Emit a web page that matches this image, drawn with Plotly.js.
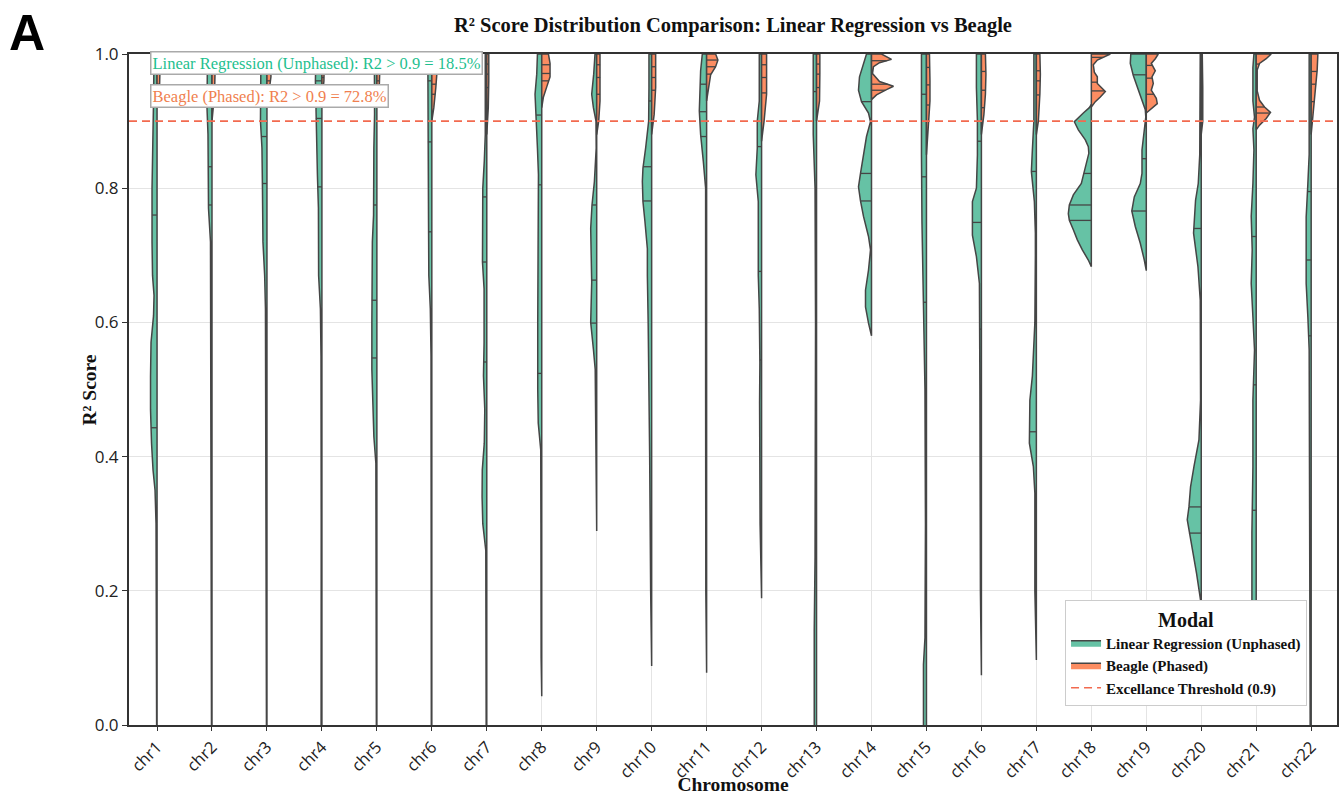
<!DOCTYPE html>
<html>
<head>
<meta charset="utf-8">
<script src="https://cdn.plot.ly/plotly-3.0.1.min.js"></script>
<style>html,body{margin:0;padding:0;background:#fff;}#chart{width:1339px;height:795px;}</style>
</head>
<body>
<div id="chart"></div>
<script>
// ---------------- DATA ----------------
const chromosomes = ['chr1','chr2','chr3','chr4','chr5','chr6','chr7','chr8','chr9','chr10','chr11',
  'chr12','chr13','chr14','chr15','chr16','chr17','chr18','chr19','chr20','chr21','chr22'];
const yTickValues = [0.0, 0.2, 0.4, 0.6, 0.8, 1.0];
const threshold = 0.9;
const lrShareAbove = 18.5;   // % of LR scores above threshold
const bgShareAbove = 72.8;   // % of Beagle scores above threshold

// Linear Regression (Unphased) density profiles: [R2 value, density]
const lr_chr1 = [[0,0.4],[0.2,0.6],[0.3,1],[0.35,2],[0.38,4],[0.42,5.5],[0.47,6.5],[0.52,6.5],[0.57,6],[0.61,3.5],[0.64,3],[0.67,4.5],[0.72,5],[0.8,5],[0.87,4],[0.93,3.5],[1.0,3]];
const lr_chr2 = [[0,0.5],[0.3,0.7],[0.5,0.8],[0.65,1],[0.72,1.5],[0.77,3.5],[0.83,3.5],[0.88,4],[0.92,5],[0.97,5],[1.0,4.5]];
const lr_chr3 = [[0,0.5],[0.3,0.7],[0.55,0.9],[0.62,1.5],[0.67,2.3],[0.72,4],[0.8,4.5],[0.86,5],[0.9,6.5],[0.96,6.5],[1.0,6]];
const lr_chr4 = [[0,0.8],[0.1,1],[0.3,0.7],[0.55,0.9],[0.62,1.5],[0.67,3.3],[0.77,3.5],[0.82,4.5],[0.86,5],[0.9,6],[0.96,6.5],[1.0,6]];
const lr_chr5 = [[0,0.5],[0.2,0.6],[0.39,1],[0.43,3],[0.47,3.5],[0.53,5],[0.6,5],[0.66,5],[0.72,4.5],[0.76,3.3],[0.82,3.3],[0.86,3],[0.91,2.3],[0.97,2.3],[1.0,2.5]];
const lr_chr6 = [[0,0.5],[0.3,0.6],[0.55,0.8],[0.62,1.5],[0.67,3],[0.75,3.3],[0.82,3.5],[0.88,4],[0.94,4],[1.0,4]];
const lr_chr7 = [[0,0.6],[0.2,0.7],[0.26,1],[0.3,4],[0.34,4.7],[0.38,4.5],[0.42,2.5],[0.47,2],[0.52,3.3],[0.57,2.7],[0.65,2.7],[0.69,4.3],[0.75,4.3],[0.8,4],[0.84,2.5],[0.88,1.5],[1.0,1.5]];
const lr_chr8 = [[0.043,0],[0.1,0.6],[0.3,0.8],[0.41,1],[0.45,3.5],[0.5,4],[0.6,4],[0.7,4],[0.77,4],[0.82,3.3],[0.86,4.3],[0.91,5.7],[0.94,6.7],[0.97,5],[1.0,4.3]];
const lr_chr9 = [[0.289,0],[0.4,1],[0.5,1.3],[0.53,1.5],[0.56,3.3],[0.6,6],[0.66,5],[0.71,6],[0.74,6],[0.775,4.7],[0.81,2.3],[0.86,0.5],[0.9,0.7],[0.92,3.3],[0.94,5],[0.97,3],[1.0,1.7]];
const lr_chr10 = [[0.088,0],[0.2,1],[0.4,2],[0.5,2.5],[0.6,3.5],[0.67,4.3],[0.71,4.3],[0.75,6.7],[0.78,8.7],[0.81,9.3],[0.83,8.7],[0.86,6],[0.9,3],[0.95,2.7],[1.0,2.7]];
const lr_chr11 = [[0.078,0],[0.2,0.8],[0.5,1],[0.7,1],[0.8,1],[0.84,3.3],[0.88,6],[0.915,7.3],[0.95,6.7],[0.975,6],[1.0,4.3]];
const lr_chr12 = [[0.189,0],[0.3,1.5],[0.48,2],[0.54,1.7],[0.62,2.3],[0.67,3.3],[0.75,3.3],[0.78,3.3],[0.82,5.7],[0.86,4.3],[0.9,4.3],[0.93,2.3],[1.0,2.3]];
const lr_chr13 = [[0,2.3],[0.14,2.3],[0.25,1.5],[0.45,1.2],[0.6,1],[0.8,1.5],[0.88,3.3],[0.94,3.3],[1.0,3.3]];
const lr_chr14 = [[0.58,0],[0.599,3],[0.623,6],[0.648,6],[0.678,3],[0.708,1],[0.728,3],[0.758,8],[0.781,11],[0.802,13],[0.822,11],[0.857,7],[0.877,5],[0.899,1],[0.912,3],[0.929,10],[0.946,13],[0.966,12],[0.986,8],[1.0,5]];
const lr_chr15 = [[0,3],[0.09,3],[0.13,1.5],[0.3,1],[0.5,1.5],[0.6,3],[0.65,3.5],[0.7,4],[0.75,4.5],[0.85,5],[0.95,5],[1.0,5]];
const lr_chr16 = [[0.074,0],[0.2,1],[0.5,1.5],[0.6,1.8],[0.658,2],[0.698,5],[0.73,9],[0.78,9],[0.8,5],[0.85,4],[0.9,4],[0.95,5],[1.0,5]];
const lr_chr17 = [[0.097,0],[0.2,1.5],[0.345,1.5],[0.385,3],[0.42,7],[0.44,7],[0.484,6.5],[0.52,4],[0.6,1.5],[0.7,1],[0.733,1],[0.78,2],[0.825,5],[0.857,4],[0.9,2.5],[1.0,2.5]];
const lr_chr18 = [[0.683,0],[0.693,3],[0.708,9],[0.723,14],[0.738,18],[0.752,22],[0.762,23],[0.775,22],[0.79,18],[0.807,10],[0.822,7.5],[0.837,5],[0.852,2.5],[0.862,3],[0.872,6],[0.887,13],[0.899,17],[0.912,8],[0.92,2],[0.925,0]];
const lr_chr19 = [[0.677,0],[0.693,2],[0.718,6],[0.743,11],[0.766,14.5],[0.787,12],[0.807,6],[0.822,4.3],[0.857,4.3],[0.872,3],[0.887,2],[0.906,0.5],[0.917,1],[0.931,4.3],[0.948,8],[0.968,13],[0.986,16],[1.0,15.5]];
const lr_chr20 = [[0.17,0],[0.186,0.7],[0.226,4.7],[0.261,9],[0.286,12.3],[0.306,14],[0.325,12.3],[0.355,10.7],[0.385,7.3],[0.425,2.3],[0.484,0.7],[0.56,1],[0.633,1],[0.683,3.3],[0.733,7.7],[0.782,5.7],[0.807,3],[0.85,1.5],[0.93,1.5],[1.0,1]];
const lr_chr21 = [[0.17,0],[0.186,4.3],[0.286,4.3],[0.385,3.3],[0.484,3.3],[0.559,1.7],[0.608,3.3],[0.658,5],[0.708,4],[0.758,5],[0.807,3.3],[0.857,2.3],[0.889,3.3],[0.906,1.7],[0.93,3.3],[0.98,3.3],[1.0,2.3]];
const lr_chr22 = [[0,1],[0.28,1.5],[0.48,1.5],[0.559,2],[0.608,3.3],[0.658,5],[0.72,5],[0.757,5],[0.807,3.3],[0.85,2],[0.9,2],[1.0,2]];

// Beagle (Phased) density profiles
const bg_chr1 = [[0.92,0],[0.95,2.5],[0.98,3],[1.0,2.5]];
const bg_chr2 = [[0.9,0],[0.94,2.5],[0.97,3],[1.0,3]];
const bg_chr3 = [[0.92,0],[0.94,2],[0.966,4],[1.0,3.5]];
const bg_chr4 = [[0.93,0],[0.96,2],[1.0,2.5]];
const bg_chr5 = [[0.93,0],[0.956,2.5],[0.98,3],[1.0,3]];
const bg_chr6 = [[0.9,0],[0.92,2],[0.95,4],[0.97,5],[1.0,4.5]];
const bg_chr7 = [[0.88,0],[0.92,1.5],[0.96,2],[1.0,2]];
const bg_chr8 = [[0.92,0],[0.936,1.7],[0.951,5],[0.966,8.3],[0.986,8.3],[1.0,6.7]];
const bg_chr9 = [[0.88,0],[0.9,2],[0.93,3.3],[0.97,3.5],[1.0,3.3]];
const bg_chr10 = [[0.88,0],[0.91,2.5],[0.95,4],[1.0,4]];
const bg_chr11 = [[0.93,0],[0.956,2.3],[0.969,4],[0.981,9],[0.991,11.3],[1.0,9]];
const bg_chr12 = [[0.87,0],[0.9,2.5],[0.94,5],[0.98,5],[1.0,5]];
const bg_chr13 = [[0.9,0],[0.93,3],[0.97,3.3],[1.0,3.3]];
const bg_chr14 = [[0.932,0],[0.939,5],[0.947,15],[0.952,22],[0.959,8],[0.971,1],[0.981,2],[0.987,8],[0.992,20],[1.0,10]];
const bg_chr15 = [[0.85,0],[0.9,2.5],[0.93,3.5],[0.96,3.5],[1.0,3]];
const bg_chr16 = [[0.88,0],[0.91,2.5],[0.94,4],[0.97,4.5],[1.0,4]];
const bg_chr17 = [[0.88,0],[0.9,2],[0.94,3.5],[0.97,4],[1.0,3.5]];
const bg_chr18 = [[0.921,0],[0.929,4],[0.936,9],[0.944,14],[0.956,6],[0.966,6],[0.973,3],[0.984,2],[0.991,6],[0.996,13],[1.0,19]];
const bg_chr19 = [[0.912,0],[0.919,5],[0.926,11],[0.934,10],[0.946,5],[0.956,7],[0.966,5.7],[0.975,9],[0.986,5],[0.993,9],[1.0,12]];
const bg_chr20 = [[0.88,0],[0.9,1.5],[0.95,1.5],[1.0,1]];
const bg_chr21 = [[0.887,0],[0.894,3.3],[0.904,10],[0.913,14.3],[0.921,8.3],[0.931,3.3],[0.945,1],[0.976,1],[0.986,3.3],[0.993,10],[1.0,15]];
const bg_chr22 = [[0.88,0],[0.906,1.5],[0.931,3.3],[0.956,5],[0.976,6],[1.0,6.7]];

// Quartiles [Q1, median, Q3] per chromosome
const lrQuartiles = [[0.443,0.76,0.93],[0.775,0.832,0.93],[0.807,0.877,0.95],[0.802,0.904,0.96],[0.547,0.633,0.775],
  [0.735,0.869,0.96],[0.541,0.69,0.787],[0.524,0.805,0.909],[0.599,0.663,0.775],[0.781,0.832,0.93],[0.877,0.914,0.955],
  [0.544,0.676,0.862],[0.47,0.72,0.944],[0.781,0.822,0.929],[0.63,0.817,0.94],[0.59,0.749,0.87],[0.437,0.69,0.825],
  [0.752,0.775,0.822],[0.766,0.844,0.969],[0.286,0.325,0.74],[0.32,0.507,0.728],[0.58,0.693,0.795]];
const bgQuartiles = [[0.955,0.97,0.985],[0.95,0.97,0.985],[0.96,0.975,0.99],[0.965,0.98,0.99],[0.96,0.975,0.99],
  [0.94,0.955,0.975],[0.95,0.97,0.985],[0.96,0.971,0.984],[0.94,0.965,0.984],[0.946,0.965,0.981],[0.97,0.981,0.991],
  [0.942,0.965,0.984],[0.95,0.97,0.985],[0.946,0.955,0.99],[0.924,0.954,0.98],[0.92,0.946,0.974],[0.939,0.96,0.975],
  [0.945,0.958,0.995],[0.94,0.964,0.983],[0.92,0.95,0.98],[0.912,0.921,0.985],[0.929,0.955,0.974]];

const lrProfiles = [lr_chr1,lr_chr2,lr_chr3,lr_chr4,lr_chr5,lr_chr6,lr_chr7,lr_chr8,lr_chr9,lr_chr10,lr_chr11,
  lr_chr12,lr_chr13,lr_chr14,lr_chr15,lr_chr16,lr_chr17,lr_chr18,lr_chr19,lr_chr20,lr_chr21,lr_chr22];
const bgProfiles = [bg_chr1,bg_chr2,bg_chr3,bg_chr4,bg_chr5,bg_chr6,bg_chr7,bg_chr8,bg_chr9,bg_chr10,bg_chr11,
  bg_chr12,bg_chr13,bg_chr14,bg_chr15,bg_chr16,bg_chr17,bg_chr18,bg_chr19,bg_chr20,bg_chr21,bg_chr22];

// ---------------- STYLE ----------------
const DENS_SCALE = 1 / 54.95;   // density unit -> category width
const X_RANGE = [-0.51, 21.47];
const GREEN = '#66c2a5', ORANGE = '#fc8d62', EDGE = '#454545';
const SERIF = 'Liberation Serif, Times New Roman, serif';
const SANS = 'Open Sans, Liberation Sans, sans-serif';

function halfViolin(profiles, sign) {
  const xs = [], ys = [];
  profiles.forEach((prof, i) => {
    prof.forEach(p => { xs.push(i + sign * p[1] * DENS_SCALE); ys.push(p[0]); });
    xs.push(i, i); ys.push(prof[prof.length - 1][0], prof[0][0]);
    xs.push(null); ys.push(null);
  });
  return {xs, ys};
}
function widthAt(prof, y) {
  for (let k = 0; k < prof.length - 1; k++) {
    const a = prof[k], b = prof[k + 1];
    if (y >= a[0] && y <= b[0]) return a[1] + (b[1] - a[1]) * (y - a[0]) / (b[0] - a[0]);
  }
  return 0;
}
function quartileLines(profiles, quarts, sign, xs, ys) {
  profiles.forEach((prof, i) => {
    quarts[i].forEach(q => {
      xs.push(i, i + sign * widthAt(prof, q) * DENS_SCALE, null);
      ys.push(q, q, null);
    });
  });
}

const lr = halfViolin(lrProfiles, -1);
const bg = halfViolin(bgProfiles, 1);
const qx = [], qy = [];
quartileLines(lrProfiles, lrQuartiles, -1, qx, qy);
quartileLines(bgProfiles, bgQuartiles, 1, qx, qy);

const traces = [
  {type:'scatter', mode:'lines', x: lr.xs, y: lr.ys, fill:'toself', fillcolor: GREEN,
   line:{color: EDGE, width:1.5}, name:'Linear Regression (Unphased)', hoverinfo:'skip'},
  {type:'scatter', mode:'lines', x: bg.xs, y: bg.ys, fill:'toself', fillcolor: ORANGE,
   line:{color: EDGE, width:1.5}, name:'Beagle (Phased)', hoverinfo:'skip'},
  {type:'scatter', mode:'lines', x: qx, y: qy, line:{color: EDGE, width:1.3},
   showlegend:false, hoverinfo:'skip'},
  {type:'scatter', mode:'lines', x: X_RANGE, y:[threshold, threshold],
   line:{color:'#f26a4f', width:1.6, dash:'8px,5px'}, name:'Excellance Threshold (' + threshold + ')', hoverinfo:'skip'}
];

const layout = {
  width:1339, height:795,
  margin:{l:129, r:2, t:54, b:70},
  paper_bgcolor:'#fff', plot_bgcolor:'#fff',
  showlegend:true,
  title:{text:'R² Score Distribution Comparison: Linear Regression vs Beagle',
    font:{family:SERIF, size:20.5, color:'#111', weight:'bold'},
    xref:'paper', x:0.5, xanchor:'center', y:1 - 25/795, yanchor:'middle'},
  xaxis:{range:X_RANGE, tickmode:'array', tickvals: chromosomes.map((c,i)=>i), ticktext: chromosomes,
    tickangle:-45, tickfont:{family:SANS, size:16.5, color:'#222'},
    showgrid:true, gridcolor:'#e4e4e4', gridwidth:1, zeroline:false,
    showline:true, mirror:true, linecolor:'#333', linewidth:2,
    ticks:'outside', ticklen:4, tickcolor:'#333', automargin:false,
    title:{text:'Chromosome', font:{family:SERIF, size:19.5, color:'#111', weight:'bold'}, standoff:0}},
  yaxis:{range:[0,1], tickmode:'array', tickvals: yTickValues, ticktext: yTickValues.map(v=>v.toFixed(1)),
    tickfont:{family:SANS, size:17, color:'#222'},
    showgrid:true, gridcolor:'#e4e4e4', gridwidth:1, zeroline:false,
    showline:true, mirror:true, linecolor:'#333', linewidth:2,
    ticks:'outside', ticklen:5, tickcolor:'#333', automargin:false},
  legend:{x:0.9752, y:0.029, xanchor:'right', yanchor:'bottom', bgcolor:'#fff',
    bordercolor:'#cccccc', borderwidth:1,
    title:{text:'Modal', side:'top center', font:{family:SERIF, size:20, color:'#111', weight:'bold'}},
    font:{family:SERIF, size:15, color:'#111', weight:'bold'}, tracegroupgap:2},
  annotations:[
    {text:'A', xref:'paper', yref:'paper', x:-0.0844, y:1.0313, xanchor:'center', yanchor:'middle',
     showarrow:false, font:{family:'Liberation Sans, Arial, sans-serif', size:50, color:'#000', weight:'bold'}},
    {text:'R² Score', xref:'paper', yref:'paper', x:-0.0323, y:0.5, xanchor:'center', yanchor:'middle',
     textangle:-90, showarrow:false, font:{family:SERIF, size:19.5, color:'#111', weight:'bold'}},
    {text:'Linear Regression (Unphased): R2 > 0.9 = ' + lrShareAbove.toFixed(1) + '%', xref:'paper', yref:'paper',
     x:0.0174, y:0.9866, xanchor:'left', yanchor:'middle', showarrow:false,
     font:{family:SERIF, size:16.5, color:'#1fbf8f'}, bgcolor:'#fff', bordercolor:'#aaaaaa', borderwidth:1.5, borderpad:1},
    {text:'Beagle (Phased): R2 > 0.9 = ' + bgShareAbove.toFixed(1) + '%', xref:'paper', yref:'paper',
     x:0.0174, y:0.937, xanchor:'left', yanchor:'middle', showarrow:false,
     font:{family:SERIF, size:16.5, color:'#f07f4f'}, bgcolor:'#fff', bordercolor:'#aaaaaa', borderwidth:1.5, borderpad:1}
  ]
};

Plotly.newPlot('chart', traces, layout, {displayModeBar:false, staticPlot:true});
</script>
</body>
</html>
